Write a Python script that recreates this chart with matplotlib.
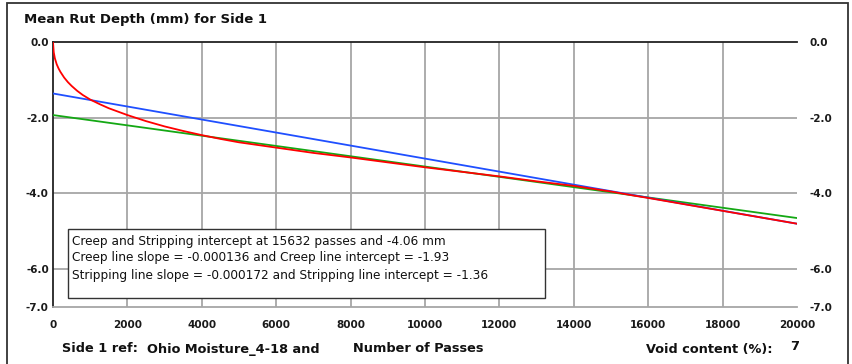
import matplotlib
matplotlib.use("Agg")
import matplotlib.pyplot as plt
from matplotlib.patches import Rectangle
import numpy as np

# Measured mean rut depth (mm) against number of wheel passes
passes = [0, 20, 50, 100, 150, 200, 300, 400, 500, 650, 800, 1000, 1250, 1500,
          2000, 2500, 3000, 3500, 4000, 4500, 5000, 6000, 7000, 8000, 9000,
          10000, 11000, 12000, 13000, 14000, 15000, 15632, 16000, 17000,
          18000, 19000, 20000]
rut_depth = [0.0, -0.27, -0.43, -0.59, -0.70, -0.79, -0.94, -1.06, -1.16,
             -1.29, -1.40, -1.52, -1.64, -1.75, -1.93, -2.09, -2.23, -2.35,
             -2.46, -2.56, -2.65, -2.79, -2.93, -3.05, -3.18, -3.31, -3.43,
             -3.55, -3.68, -3.80, -3.95, -4.06, -4.12, -4.29, -4.46, -4.63,
             -4.80]

# Fitted creep and stripping lines
creep_slope = -0.000136
creep_intercept = -1.93
strip_slope = -0.000172
strip_intercept = -1.36
cross_passes = 15632
cross_depth = -4.06
line_range = [0, 20000]

x_ticks = [0, 2000, 4000, 6000, 8000, 10000, 12000, 14000, 16000, 18000, 20000]
y_ticks = [0.0, -2.0, -4.0, -6.0, -7.0]
x_grid = [2000, 4000, 6000, 8000, 10000, 12000, 14000, 16000, 18000]
y_grid = [-2.0, -4.0, -6.0]

W, H = 852, 364
fig = plt.figure(figsize=(W / 100, H / 100), dpi=100)
fig.patch.set_facecolor("white")

def fx(px):
    return px / W

def fy(py):
    return 1 - py / H

ax = fig.add_axes([fx(53), fy(307), fx(797) - fx(53), fy(42) - fy(307)])
ax.set_xlim(0, 20000)
ax.set_ylim(-7.0, 0.0)

grid_col = "#a6a6a6"
for gx in x_grid:
    ax.axvline(gx, color=grid_col, lw=1.3, zorder=1)
for gy in y_grid:
    ax.axhline(gy, color=grid_col, lw=1.3, zorder=1)

ax.spines["right"].set_visible(False)
ax.spines["left"].set_color("#222222")
ax.spines["left"].set_linewidth(1.3)
ax.spines["top"].set_color("#222222")
ax.spines["top"].set_linewidth(1.3)
ax.spines["bottom"].set_color(grid_col)
ax.spines["bottom"].set_linewidth(1.3)

xr = np.array(line_range, dtype=float)
ax.plot(xr, creep_intercept + creep_slope * xr, color="#14a814", lw=1.3, zorder=3)
ax.plot(xr, strip_intercept + strip_slope * xr, color="#1f4fff", lw=1.3, zorder=4)
ax.plot(passes, rut_depth, color="#ff0000", lw=1.3, zorder=5)

tick_font = dict(family="DejaVu Sans", weight="bold", size=7.5)
ax.set_xticks(x_ticks)
ax.set_xticklabels([str(v) for v in x_ticks], fontdict=tick_font, color="#1a1a1a")
ax.set_yticks(y_ticks)
ax.set_yticklabels([f"{v:.1f}" for v in y_ticks], fontdict=tick_font, color="#1a1a1a")
ax.tick_params(axis="x", length=0, pad=9)
ax.tick_params(axis="y", length=0, pad=3)

ax2 = ax.twinx()
ax2.set_ylim(-7.0, 0.0)
ax2.set_yticks(y_ticks)
ax2.set_yticklabels([f"{v:.1f}" for v in y_ticks], fontdict=tick_font, color="#1a1a1a")
ax2.tick_params(axis="y", length=0, pad=9)
for s in ax2.spines.values():
    s.set_visible(False)

# Outer frame
fig.add_artist(Rectangle((fx(7), -0.02), fx(848) - fx(7), fy(3) + 0.02,
                         transform=fig.transFigure, fill=False,
                         ec="#333333", lw=1.3))

# Title
fig.text(fx(24), fy(19), "Mean Rut Depth (mm) for Side 1", fontsize=9.5,
         fontweight="bold", va="center", ha="left", color="#111111")

# Annotation box
fig.add_artist(Rectangle((fx(68), fy(298)), fx(545) - fx(68), fy(229) - fy(298),
                         transform=fig.transFigure, facecolor="white",
                         ec="#333333", lw=1.0, zorder=6))
box_lines = [
    f"Creep and Stripping intercept at {cross_passes} passes and {cross_depth:.2f} mm",
    f"Creep line slope = {creep_slope:.6f} and Creep line intercept = {creep_intercept:.2f}",
    f"Stripping line slope = {strip_slope:.6f} and Stripping line intercept = {strip_intercept:.2f}",
]
for i, t in enumerate(box_lines):
    fig.text(fx(72), fy(241 + 17 * i), t, fontsize=8.7, va="center", ha="left",
             color="#111111", zorder=7)

# Footer labels
foot = dict(fontsize=9.3, fontweight="bold", va="center", color="#111111")
fig.text(fx(62), fy(349), "Side 1 ref:", ha="left", **foot)
fig.text(fx(147), fy(349), "Ohio Moisture_4-18 and", ha="left", **foot)
fig.text(fx(418), fy(349), "Number of Passes", ha="center", **foot)
fig.text(fx(646), fy(349), "Void content (%):", ha="left", **foot)
fig.text(fx(790), fy(347), "7", ha="left", **foot)

fig.savefig("out.png", dpi=100)
